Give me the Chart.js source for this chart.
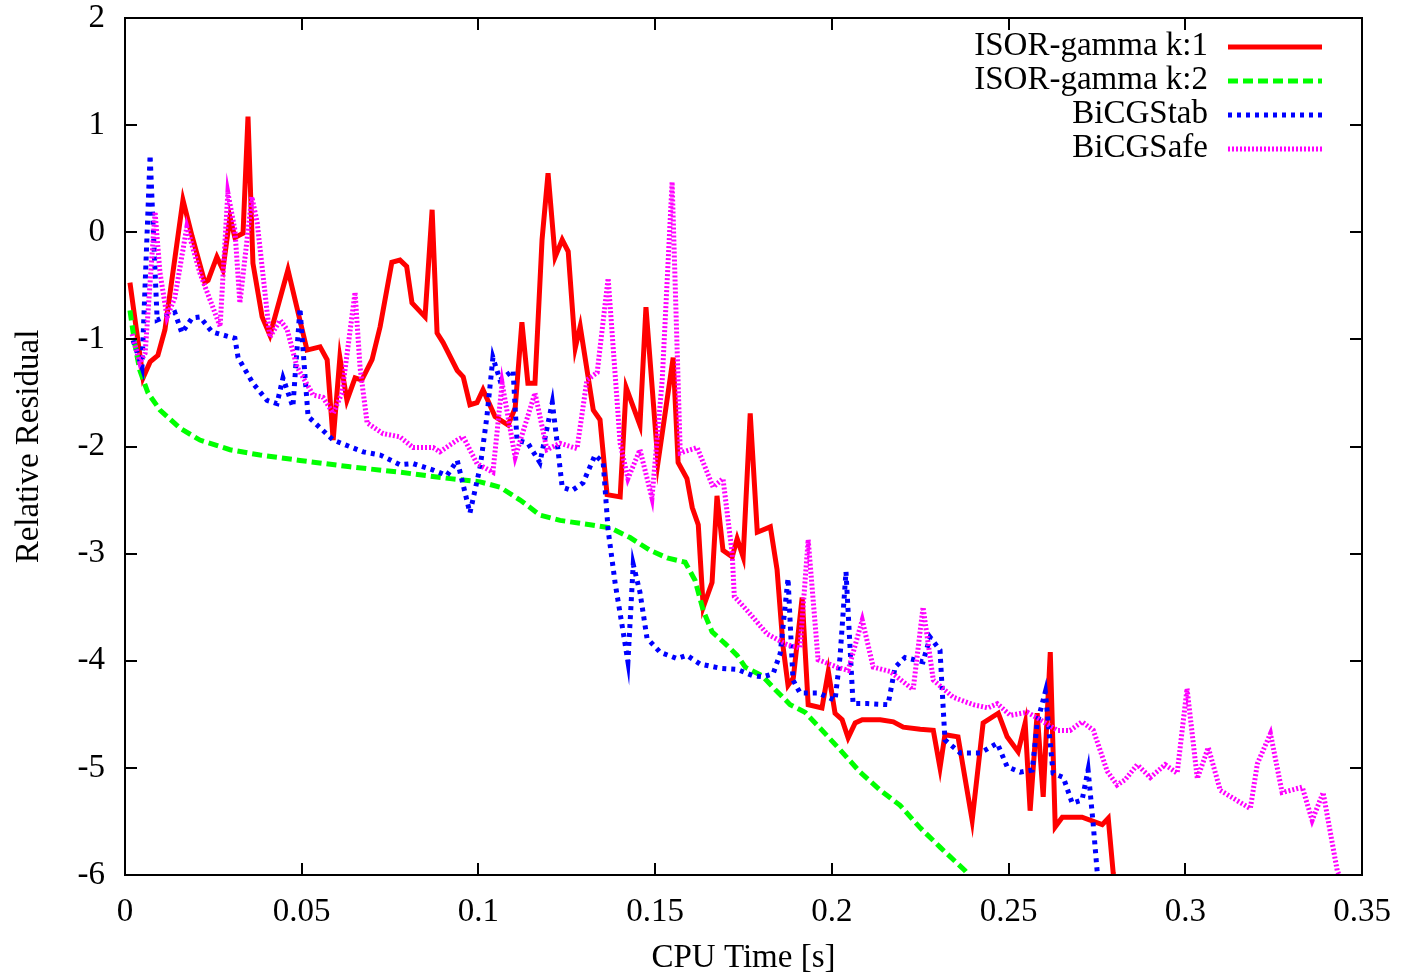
<!DOCTYPE html>
<html>
<head>
<meta charset="utf-8">
<script src="https://cdn.jsdelivr.net/npm/chart.js@4.4.1/dist/chart.umd.min.js"></script>
<style>
  html, body { margin: 0; padding: 0; background: #fff; }
  canvas { display: block; }
</style>
</head>
<body>
<canvas id="residual-chart" width="1404" height="978"></canvas>
<script>
// CPU time [s] vs. relative residual (log10)

const isorK1Time = [
  0.0014, 0.0051, 0.0071, 0.0093, 0.0113, 0.0164, 0.0190, 0.0226, 0.0235, 0.0260,
  0.0277, 0.0297, 0.0311, 0.0334, 0.0348, 0.0362, 0.0388, 0.0410, 0.0461, 0.0515,
  0.0552, 0.0572, 0.0589, 0.0608, 0.0628, 0.0651, 0.0670, 0.0699, 0.0722, 0.0755,
  0.0778, 0.0797, 0.0812, 0.0849, 0.0869, 0.0883, 0.0900, 0.0940, 0.0957, 0.0976,
  0.0996, 0.1013, 0.1047, 0.1084, 0.1104, 0.1123, 0.1140, 0.1160, 0.1180, 0.1197,
  0.1217, 0.1237, 0.1254, 0.1274, 0.1288, 0.1325, 0.1344, 0.1364, 0.1401, 0.1418,
  0.1457, 0.1474, 0.1508, 0.1551, 0.1565, 0.1590, 0.1605, 0.1622, 0.1636, 0.1661,
  0.1675, 0.1692, 0.1718, 0.1732, 0.1749, 0.1769, 0.1789, 0.1826, 0.1845, 0.1862,
  0.1876, 0.1891, 0.1916, 0.1933, 0.1972, 0.1990, 0.2009, 0.2029, 0.2046, 0.2066,
  0.2086, 0.2137, 0.2174, 0.2202, 0.2250, 0.2287, 0.2306, 0.2320, 0.2357, 0.2397,
  0.2428, 0.2471, 0.2496, 0.2527, 0.2547, 0.2561, 0.2581, 0.2598, 0.2618, 0.2632,
  0.2652, 0.2708, 0.2765, 0.2782, 0.2796, 0.2802
];
const isorK1Residual = [
  -0.47, -1.36, -1.21, -1.15, -0.91, 0.30, -0.04, -0.47, -0.45, -0.23,
  -0.35, 0.14, -0.05, -0.01, 1.08, -0.29, -0.79, -0.96, -0.35, -1.10,
  -1.07, -1.19, -1.94, -1.17, -1.57, -1.36, -1.38, -1.19, -0.88, -0.28,
  -0.26, -0.32, -0.66, -0.79, 0.21, -0.94, -1.03, -1.29, -1.35, -1.61,
  -1.59, -1.47, -1.72, -1.80, -1.64, -0.84, -1.41, -1.41, -0.07, 0.55,
  -0.23, -0.07, -0.18, -1.08, -0.88, -1.66, -1.75, -2.45, -2.47, -1.45,
  -1.80, -0.70, -2.15, -1.17, -2.15, -2.30, -2.57, -2.73, -3.50, -3.27,
  -2.46, -2.97, -3.03, -2.86, -3.03, -1.69, -2.80, -2.75, -3.15, -3.87,
  -4.23, -4.16, -3.41, -4.41, -4.44, -4.10, -4.49, -4.55, -4.72, -4.58,
  -4.55, -4.55, -4.57, -4.62, -4.64, -4.65, -5.00, -4.69, -4.71, -5.49,
  -4.58, -4.49, -4.71, -4.85, -4.58, -5.40, -4.49, -5.27, -3.92, -5.55,
  -5.46, -5.46, -5.53, -5.47, -5.98, -6.14
];

const isorK2Time = [
  0.0014, 0.0028, 0.0042, 0.0065, 0.0099, 0.0156, 0.0212, 0.0297, 0.0382, 0.0495,
  0.0637, 0.0778, 0.0920, 0.1005, 0.1061, 0.1118, 0.1174, 0.1231, 0.1316, 0.1373,
  0.1429, 0.1486, 0.1534, 0.1585, 0.1613, 0.1636, 0.1661, 0.1698, 0.1732, 0.1755,
  0.1803, 0.1840, 0.1882, 0.1924, 0.1967, 0.2023, 0.2080, 0.2137, 0.2193, 0.2250,
  0.2306, 0.2377, 0.2391
];
const isorK2Residual = [
  -0.73, -1.05, -1.29, -1.50, -1.66, -1.83, -1.94, -2.03, -2.08, -2.13,
  -2.19, -2.24, -2.30, -2.33, -2.38, -2.50, -2.64, -2.69, -2.73, -2.76,
  -2.85, -2.97, -3.04, -3.08, -3.25, -3.53, -3.73, -3.84, -3.95, -4.06,
  -4.14, -4.27, -4.41, -4.48, -4.63, -4.83, -5.04, -5.21, -5.35, -5.56,
  -5.74, -5.96, -6.02
];

const bicgstabTime = [
  0.0023, 0.0048, 0.0071, 0.0091, 0.0141, 0.0161, 0.0190, 0.0212, 0.0246, 0.0311,
  0.0320, 0.0362, 0.0402, 0.0430, 0.0447, 0.0475, 0.0495, 0.0518, 0.0589, 0.0674,
  0.0722, 0.0778, 0.0815, 0.0872, 0.0911, 0.0940, 0.0976, 0.1005, 0.1024, 0.1041,
  0.1061, 0.1098, 0.1109, 0.1140, 0.1174, 0.1209, 0.1223, 0.1237, 0.1265, 0.1296,
  0.1330, 0.1353, 0.1367, 0.1387, 0.1409, 0.1423, 0.1438, 0.1457, 0.1477, 0.1514,
  0.1562, 0.1590, 0.1627, 0.1684, 0.1732, 0.1777, 0.1806, 0.1834, 0.1854, 0.1876,
  0.1890, 0.1910, 0.1961, 0.2009, 0.2023, 0.2040, 0.2060, 0.2100, 0.2159, 0.2179,
  0.2207, 0.2258, 0.2278, 0.2306, 0.2320, 0.2363, 0.2420, 0.2468, 0.2496, 0.2533,
  0.2567, 0.2581, 0.2604, 0.2626, 0.2655, 0.2680, 0.2708, 0.2725, 0.2739, 0.2751,
  0.2754
];
const bicgstabResidual = [
  -1.01, -1.26, 0.72, -0.82, -0.75, -0.94, -0.80, -0.79, -0.93, -0.99,
  -1.17, -1.41, -1.57, -1.60, -1.36, -1.63, -0.71, -1.72, -1.94, -2.05,
  -2.08, -2.17, -2.16, -2.22, -2.27, -2.13, -2.62, -2.19, -1.72, -1.17,
  -1.38, -1.29, -1.94, -1.97, -2.15, -1.59, -1.97, -2.38, -2.41, -2.34,
  -2.08, -2.15, -2.78, -3.28, -3.72, -4.01, -3.10, -3.36, -3.79, -3.92,
  -3.98, -3.95, -4.03, -4.07, -4.08, -4.14, -4.15, -4.12, -3.93, -3.23,
  -4.18, -4.30, -4.30, -4.37, -3.97, -3.17, -4.40, -4.40, -4.41, -4.06,
  -3.97, -4.01, -3.78, -3.90, -4.74, -4.86, -4.86, -4.77, -4.99, -5.04,
  -5.02, -4.58, -4.29, -5.05, -5.09, -5.33, -5.30, -5.02, -5.51, -5.98,
  -6.10
];

const bicgsafeTime = [
  0.0020, 0.0042, 0.0057, 0.0085, 0.0099, 0.0119, 0.0141, 0.0175, 0.0212, 0.0269,
  0.0291, 0.0311, 0.0325, 0.0359, 0.0374, 0.0410, 0.0439, 0.0459, 0.0487, 0.0524,
  0.0532, 0.0560, 0.0589, 0.0614, 0.0651, 0.0665, 0.0685, 0.0730, 0.0778, 0.0815,
  0.0872, 0.0891, 0.0940, 0.0957, 0.0996, 0.1041, 0.1067, 0.1104, 0.1160, 0.1194,
  0.1231, 0.1279, 0.1307, 0.1336, 0.1367, 0.1401, 0.1423, 0.1457, 0.1491, 0.1520,
  0.1548, 0.1571, 0.1619, 0.1664, 0.1692, 0.1718, 0.1724, 0.1760, 0.1817, 0.1873,
  0.1910, 0.1933, 0.1961, 0.2015, 0.2046, 0.2086, 0.2117, 0.2165, 0.2230, 0.2258,
  0.2287, 0.2343, 0.2400, 0.2442, 0.2468, 0.2505, 0.2553, 0.2589, 0.2638, 0.2674,
  0.2708, 0.2740, 0.2779, 0.2807, 0.2830, 0.2864, 0.2901, 0.2943, 0.2977, 0.3005,
  0.3034, 0.3065, 0.3099, 0.3184, 0.3204, 0.3241, 0.3274, 0.3331, 0.3359, 0.3390,
  0.3430, 0.3438
];
const bicgsafeResidual = [
  -0.95, -1.22, -1.13, 0.19, -0.38, -0.79, -0.61, 0.05, -0.38, -0.88,
  0.37, 0.02, -0.66, 0.33, 0.09, -0.98, -0.82, -0.91, -1.26, -1.47,
  -1.52, -1.54, -1.69, -1.50, -0.56, -1.26, -1.78, -1.88, -1.91, -2.01,
  -2.01, -2.05, -1.94, -1.91, -2.16, -2.24, -1.41, -2.10, -1.50, -2.03,
  -1.97, -2.02, -1.38, -1.31, -0.43, -1.97, -2.30, -2.03, -2.48, -1.38,
  0.47, -2.06, -2.01, -2.38, -2.30, -3.00, -3.40, -3.53, -3.75, -3.85,
  -3.88, -2.87, -3.99, -4.06, -4.09, -3.62, -4.06, -4.10, -4.27, -3.50,
  -4.18, -4.34, -4.41, -4.44, -4.40, -4.51, -4.48, -4.55, -4.65, -4.65,
  -4.57, -4.65, -5.03, -5.16, -5.11, -4.97, -5.09, -4.97, -5.05, -4.26,
  -5.10, -4.81, -5.21, -5.38, -4.96, -4.68, -5.23, -5.18, -5.49, -5.23,
  -5.96, -6.02
];

const FONT = 'Liberation Serif, Times New Roman, serif';

function toPoints(xs, ys) {
  return xs.map((x, i) => ({ x: x, y: ys[i] }));
}

// gnuplot style frame: border plus inward ticks on all four sides
const framePlugin = {
  id: 'frame',
  afterDatasetsDraw(chart) {
    const { ctx, chartArea: a, scales } = chart;
    const len = 12;
    ctx.save();
    ctx.strokeStyle = '#000';
    ctx.lineWidth = 2;
    ctx.beginPath();
    scales.x.ticks.forEach(t => {
      const px = Math.round(scales.x.getPixelForValue(t.value));
      ctx.moveTo(px, a.bottom); ctx.lineTo(px, a.bottom - len);
      ctx.moveTo(px, a.top); ctx.lineTo(px, a.top + len);
    });
    scales.y.ticks.forEach(t => {
      const py = Math.round(scales.y.getPixelForValue(t.value));
      ctx.moveTo(a.left, py); ctx.lineTo(a.left + len, py);
      ctx.moveTo(a.right, py); ctx.lineTo(a.right - len, py);
    });
    ctx.stroke();
    ctx.strokeRect(a.left, a.top, a.right - a.left, a.bottom - a.top);
    ctx.restore();
  }
};

// key in the top right corner: label right aligned, sample line after it
const keyPlugin = {
  id: 'key',
  afterDraw(chart) {
    const { ctx, chartArea: a } = chart;
    const textRight = a.right - 154;
    const lineStart = a.right - 134;
    const lineEnd = a.right - 40;
    ctx.save();
    ctx.font = '33px ' + FONT;
    ctx.textAlign = 'right';
    ctx.textBaseline = 'middle';
    chart.data.datasets.forEach((ds, i) => {
      const y = a.top + 28 + i * 34;
      ctx.fillStyle = '#000';
      ctx.fillText(ds.label, textRight, y);
      ctx.strokeStyle = ds.borderColor;
      ctx.lineWidth = ds.borderWidth;
      ctx.setLineDash(ds.borderDash || []);
      ctx.beginPath();
      ctx.moveTo(lineStart, y + 1);
      ctx.lineTo(lineEnd, y + 1);
      ctx.stroke();
    });
    ctx.restore();
  }
};

const ctx = document.getElementById('residual-chart').getContext('2d');

new Chart(ctx, {
  type: 'line',
  data: {
    datasets: [
      {
        label: 'ISOR-gamma k:1',
        data: toPoints(isorK1Time, isorK1Residual),
        borderColor: '#ff0000',
        borderWidth: 5,
        order: 4
      },
      {
        label: 'ISOR-gamma k:2',
        data: toPoints(isorK2Time, isorK2Residual),
        borderColor: '#00ff00',
        borderWidth: 5,
        borderDash: [10, 5],
        order: 3
      },
      {
        label: 'BiCGStab',
        data: toPoints(bicgstabTime, bicgstabResidual),
        borderColor: '#0000ff',
        borderWidth: 5,
        borderDash: [4, 5],
        order: 2
      },
      {
        label: 'BiCGSafe',
        data: toPoints(bicgsafeTime, bicgsafeResidual),
        borderColor: '#ff00ff',
        borderWidth: 5,
        borderDash: [2, 2],
        order: 1
      }
    ]
  },
  options: {
    responsive: false,
    devicePixelRatio: 1,
    animation: false,
    layout: { padding: { left: 0, right: 42, top: 18, bottom: 0 } },
    elements: {
      point: { radius: 0 },
      line: { tension: 0, borderJoinStyle: 'miter', borderCapStyle: 'butt', fill: false }
    },
    datasets: { line: { clip: 0 } },
    plugins: {
      legend: { display: false },
      tooltip: { enabled: false }
    },
    scales: {
      x: {
        type: 'linear',
        min: 0,
        max: 0.35,
        grid: { display: false, drawTicks: false },
        border: { display: false },
        ticks: {
          stepSize: 0.05,
          padding: 18,
          color: '#000',
          font: { family: FONT, size: 33 },
          maxRotation: 0,
          callback: v => String(+v.toFixed(2))
        },
        title: {
          display: true,
          text: 'CPU Time [s]',
          color: '#000',
          font: { family: FONT, size: 33 },
          padding: { top: 0, bottom: 0 }
        },
        afterFit: scale => {
          scale.height = 103;
          scale.paddingLeft = 0;
          scale.paddingRight = 0;
        }
      },
      y: {
        min: -6,
        max: 2,
        grid: { display: false, drawTicks: false },
        border: { display: false },
        ticks: {
          stepSize: 1,
          padding: 20,
          color: '#000',
          font: { family: FONT, size: 33 }
        },
        title: {
          display: true,
          text: 'Relative Residual',
          color: '#000',
          font: { family: FONT, size: 33 },
          padding: { top: 10, bottom: 0 }
        },
        afterFit: scale => {
          scale.width = 125;
          scale.paddingTop = 0;
          scale.paddingBottom = 0;
        }
      }
    }
  },
  plugins: [framePlugin, keyPlugin]
});
</script>
</body>
</html>
